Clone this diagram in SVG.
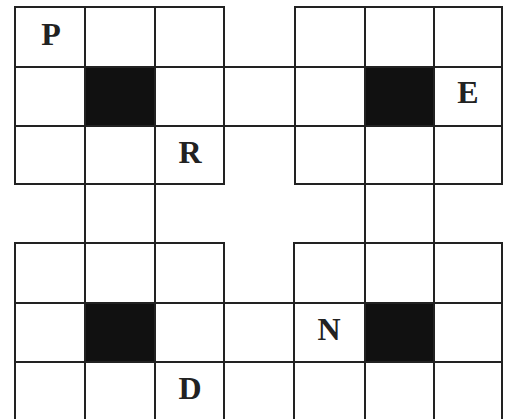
<svg xmlns="http://www.w3.org/2000/svg" width="510" height="419" viewBox="0 0 510 419">
<style>
.g{fill:none;stroke:#222;stroke-width:2}
.b{fill:#111}
.c{stroke:#222;stroke-width:2;fill:none}
.t{font-family:"Liberation Serif",serif;font-weight:bold;font-size:32px;fill:#222;text-anchor:middle}
</style>
<rect width="510" height="419" fill="#fff"/>
<g id="connectors">
<path class="c" d="M224 67H295M224 126H295M224 303H294M224 362H294M85 184V243M155 184V243M365 184V243M434 184V243"/>
</g>
<g id="grid-top-left">
<rect class="b" x="85" y="67" width="70" height="59"/>
<path class="g" d="M15 7H224V184H15ZM85 7V184M155 7V184M15 67H224M15 126H224"/>
<text class="t" x="51" y="45">P</text>
<text class="t" x="190" y="163">R</text>
</g>
<g id="grid-top-right">
<rect class="b" x="365" y="67" width="69" height="59"/>
<path class="g" d="M295 7H502V184H295ZM365 7V184M434 7V184M295 67H502M295 126H502"/>
<text class="t" x="468" y="103">E</text>
</g>
<g id="grid-bottom-left">
<rect class="b" x="85" y="303" width="70" height="59"/>
<path class="g" d="M15 425V243H224V425M85 243V425M155 243V425M15 303H224M15 362H224"/>
<text class="t" x="190" y="399">D</text>
</g>
<g id="grid-bottom-right">
<rect class="b" x="365" y="303" width="69" height="59"/>
<path class="g" d="M294 425V243H502V425M365 243V425M434 243V425M294 303H502M294 362H502"/>
<text class="t" x="329" y="340">N</text>
</g>
</svg>
